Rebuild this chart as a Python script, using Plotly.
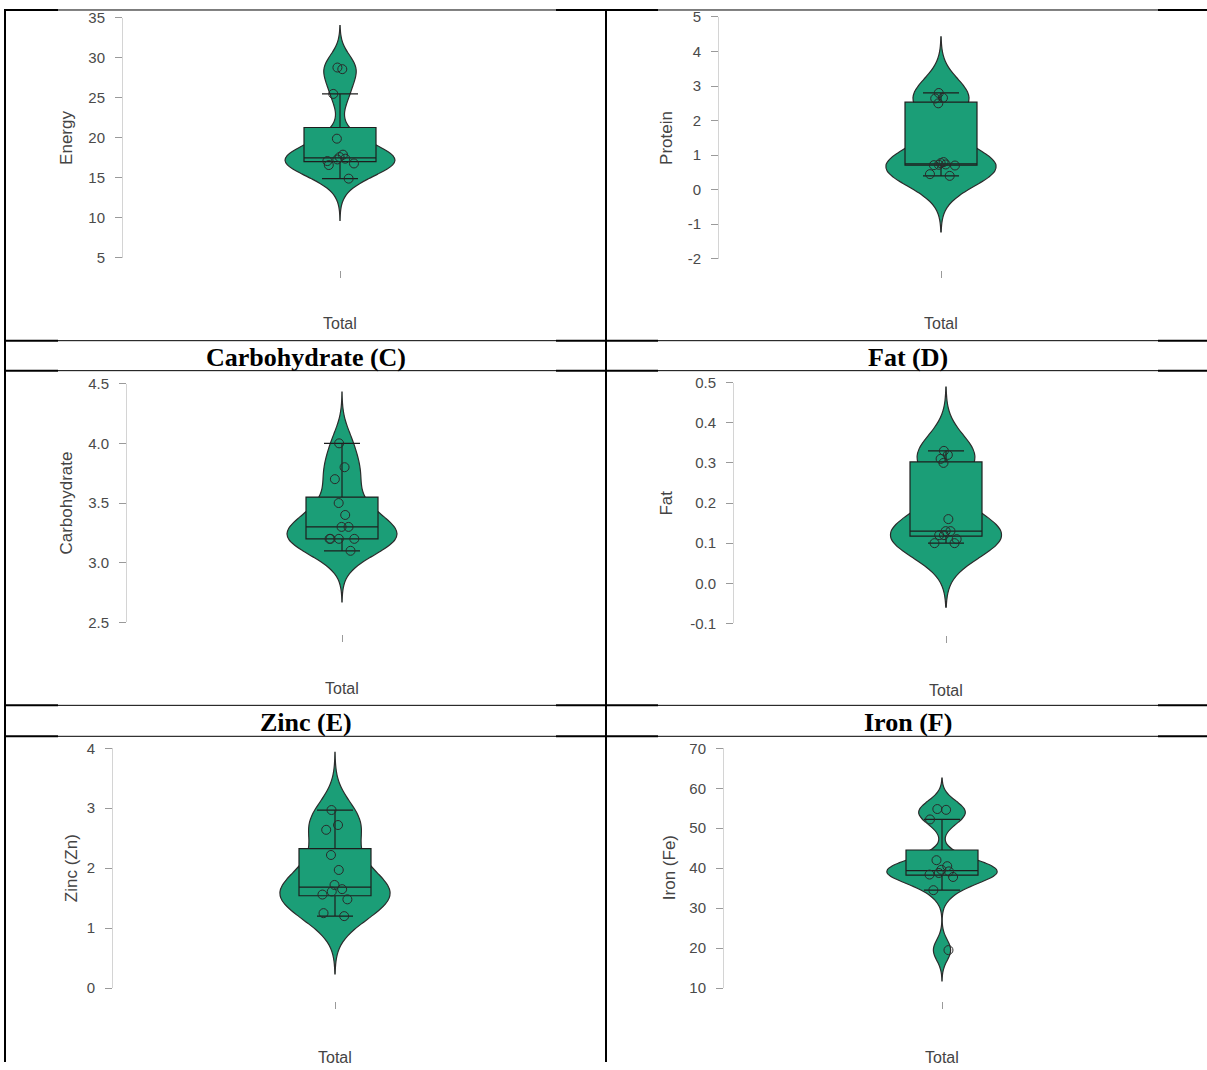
import numpy as np
import plotly.graph_objects as go

# Per-sample nutrient values (one group, "Total")
energy = [14.9, 16.6, 16.8, 17.1, 17.3, 17.4, 17.6, 17.9, 19.9, 25.5, 28.6, 28.8]
protein = [0.40, 0.45, 0.70, 0.71, 0.72, 0.73, 0.77, 0.80, 2.50, 2.64, 2.66, 2.80]
carbohydrate = [3.1, 3.2, 3.2, 3.2, 3.2, 3.3, 3.3, 3.4, 3.5, 3.7, 3.8, 4.0]
fat = [0.10, 0.10, 0.11, 0.12, 0.12, 0.13, 0.13, 0.16, 0.30, 0.31, 0.32, 0.33]
zinc = [1.20, 1.25, 1.48, 1.56, 1.61, 1.65, 1.72, 1.97, 2.22, 2.64, 2.72, 2.97]
iron = [19.5, 34.5, 37.8, 38.4, 38.8, 39.2, 39.6, 40.5, 42.0, 52.2, 54.6, 54.8]

series = [energy, protein, carbohydrate, fat, zinc, iron]
y_titles = ["Energy", "Protein", "Carbohydrate", "Fat", "Zinc (Zn)", "Iron (Fe)"]
panel_titles = ["Carbohydrate (C)", "Fat (D)", "Zinc (E)", "Iron (F)"]
group_label = "Total"
tick_values = [
    [5, 10, 15, 20, 25, 30, 35],
    [-2, -1, 0, 1, 2, 3, 4, 5],
    [2.5, 3.0, 3.5, 4.0, 4.5],
    [-0.1, 0.0, 0.1, 0.2, 0.3, 0.4, 0.5],
    [0, 1, 2, 3, 4],
    [10, 20, 30, 40, 50, 60, 70],
]
tick_decimals = [0, 0, 1, 1, 0, 0]

W, H = 1207, 1070
GREEN = "#1b9e77"
SANS = "Liberation Sans, Arial, sans-serif"
SERIF = "Liberation Serif, Times New Roman, serif"

# Panel frames in page pixels: y-axis x, group centre x, top/bottom tick y,
# x-tick baseline y, group label y, y-title position
frames = [
    dict(ax=123, cx=340, top=17, bot=257, xt=269, lab=323, tx=67, ty=137),
    dict(ax=719, cx=941, top=16, bot=258, xt=269, lab=323, tx=667, ty=137),
    dict(ax=127, cx=342, top=383, bot=622, xt=634, lab=688, tx=67, ty=503),
    dict(ax=734, cx=946, top=382, bot=623, xt=635, lab=690, tx=667, ty=503),
    dict(ax=113, cx=335, top=748, bot=988, xt=1001, lab=1057, tx=71, ty=868),
    dict(ax=724, cx=942, top=748, bot=988, xt=1001, lab=1057, tx=669, ty=868),
]
VIOLIN_PX = 110
BOX_PX = 72

# The page shows the figure between rows 8 and 1062
TOP_OFF, SHOWN_H = 8, 1054


def px_x(x):
    return x / W


def px_y(y):
    return 1 - (y - TOP_OFF) / SHOWN_H


def nrd0(v):
    """Silverman's rule as used by R's default density bandwidth."""
    a = np.asarray(v, float)
    q75, q25 = np.percentile(a, [75, 25])
    s = min(a.std(ddof=1), (q75 - q25) / 1.34)
    return 0.9 * s * len(a) ** -0.2


def box_stats(v):
    a = np.sort(np.asarray(v, float))
    q1, med, q3 = np.percentile(a, [25, 50, 75])
    iqr = q3 - q1
    lo = a[a >= q1 - 1.5 * iqr].min()
    hi = a[a <= q3 + 1.5 * iqr].max()
    return q1, med, q3, lo, hi


fig = go.Figure()
annotations = []
layout_axes = {}

for i, (vals, fr) in enumerate(zip(series, frames)):
    k = "" if i == 0 else str(i + 1)
    xa, ya = "x" + k, "y" + k
    half = fr["cx"] - fr["ax"]
    bw = nrd0(vals)
    q1, med, q3, lo, hi = box_stats(vals)

    fig.add_trace(go.Violin(
        y=vals, x0=0, xaxis=xa, yaxis=ya,
        width=VIOLIN_PX / half, scalemode="width",
        bandwidth=bw, spanmode="manual",
        span=[min(vals) - 3 * bw, max(vals) + 3 * bw],
        fillcolor=GREEN, line=dict(color="#2c2c2c", width=1.2),
        points=False, box_visible=False, meanline_visible=False,
        hoverinfo="skip", showlegend=False,
    ))
    fig.add_trace(go.Box(
        x=[0], q1=[q1], median=[med], q3=[q3], lowerfence=[lo], upperfence=[hi],
        xaxis=xa, yaxis=ya, width=BOX_PX / half, whiskerwidth=0.5,
        fillcolor=GREEN, line=dict(color="#1e1e1e", width=1.2),
        boxpoints=False, hoverinfo="skip", showlegend=False,
    ))
    fig.add_trace(go.Box(
        y=vals, x0=0, xaxis=xa, yaxis=ya, width=BOX_PX / half,
        boxpoints="all", jitter=0.5, pointpos=0,
        fillcolor="rgba(0,0,0,0)", line=dict(color="rgba(0,0,0,0)", width=0),
        whiskerwidth=0,
        marker=dict(symbol="circle-open", size=9, color="#2a2a2a",
                    line=dict(width=1)),
        hoverinfo="skip", showlegend=False,
    ))

    tv = tick_values[i]
    dec = tick_decimals[i]
    layout_axes["xaxis" + k] = dict(
        domain=[px_x(fr["ax"]), px_x(2 * fr["cx"] - fr["ax"])],
        range=[-1, 1], anchor="free", position=px_y(fr["xt"]),
        tickvals=[0], showticklabels=False, ticks="outside", ticklen=7,
        tickcolor="#9a9a9a", showline=False, showgrid=False, zeroline=False,
        fixedrange=True,
    )
    layout_axes["yaxis" + k] = dict(
        domain=[px_y(fr["bot"]), px_y(fr["top"])],
        range=[tv[0], tv[-1]], anchor=xa,
        tickvals=tv, ticktext=[f"{v:.{dec}f}" for v in tv],
        ticks="outside", ticklen=7, tickcolor="#9a9a9a",
        tickfont=dict(family=SANS, size=15, color="#4a4a4a"),
        ticklabelstandoff=7,
        showline=True, linecolor="#d4d4d4", linewidth=1,
        showgrid=False, zeroline=False, fixedrange=True,
    )

    annotations.append(dict(
        text=y_titles[i], x=px_x(fr["tx"]), y=px_y(fr["ty"]),
        xref="paper", yref="paper", textangle=-90, showarrow=False,
        xanchor="center", yanchor="middle",
        font=dict(family=SANS, size=17, color="#444444"),
    ))
    annotations.append(dict(
        text=group_label, x=px_x(fr["cx"]), y=px_y(fr["lab"]),
        xref="paper", yref="paper", showarrow=False,
        xanchor="center", yanchor="middle",
        font=dict(family=SANS, size=16, color="#444444"),
    ))

# Row headings of the table
heading_pos = [(306, 357), (908, 357), (306, 722), (908, 722)]
for text, (hx, hy) in zip(panel_titles, heading_pos):
    annotations.append(dict(
        text=f"<b>{text}</b>", x=px_x(hx), y=px_y(hy),
        xref="paper", yref="paper", showarrow=False,
        xanchor="center", yanchor="middle",
        font=dict(family=SERIF, size=26, color="#000000"),
    ))

# Table rules
shapes = []
rule_rows = [9, 340, 370, 705, 736]
segments = [(5, 58, 2), (58, 556, 1), (556, 658, 2), (658, 1158, 1), (1158, 1207, 2)]
for ry in rule_rows:
    for x0, x1, lw in segments:
        shapes.append(dict(type="line", xref="paper", yref="paper",
                           x0=px_x(x0), x1=px_x(x1), y0=px_y(ry), y1=px_y(ry),
                           line=dict(color="#000000", width=lw)))
for rx in [5, 606]:
    shapes.append(dict(type="line", xref="paper", yref="paper",
                       x0=px_x(rx), x1=px_x(rx), y0=px_y(8), y1=0,
                       line=dict(color="#000000", width=2)))

fig.update_layout(
    width=W, height=H, margin=dict(l=0, r=0, t=0, b=0),
    paper_bgcolor="white", plot_bgcolor="rgba(0,0,0,0)",
    showlegend=False, boxmode="overlay", violinmode="overlay",
    annotations=annotations, shapes=shapes, **layout_axes,
)

fig.write_html("out.html")
